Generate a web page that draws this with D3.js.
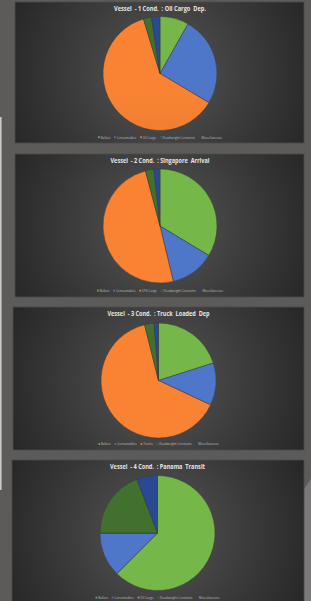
<!DOCTYPE html>
<html><head><meta charset="utf-8">
<script src="https://cdn.jsdelivr.net/npm/d3@7"></script>
<style>html,body{margin:0;padding:0;background:#5d5a5a;overflow:hidden}svg{display:block}</style>
</head><body>
<script>
const categories = ["Ballast","Consumables","Cargo","Deadweight Constants","Miscellaneous"];
const chartTitles = ["Vessel  - 1 Cond.  : Oil Cargo  Dep.","Vessel  - 2 Cond.  : Singapore  Arrival","Vessel  - 3 Cond.  : Truck  Loaded  Dep","Vessel  - 4 Cond.  : Panama  Transit"];
const cargoLabels = ["Oil Cargo","LPG Cargo","Trucks","Oil Cargo"];
const cond1 = [8.2, 25.4, 61.8, 2.3, 2.4];
const cond2 = [33.6, 12.6, 49.6, 2.4, 1.7];
const cond3 = [20.1, 11.9, 64.2, 2.7, 1.2];
const cond4 = [62.5, 12.5, 0, 19.2, 5.8];
const seriesValues = [cond1, cond2, cond3, cond4];
const colors = ["#6fae45","#4a70bf","#ec7c30","#3f6a2c","#27458a"];

// layout (pixels)
const W = 311, H = 601;
const panels = [
  {x:15, y:2,   w:289, h:141, cx:160,   cy:73.5, r:57,   ty:10.5,  ly:137.8, tw:92},
  {x:15, y:154, w:289, h:143, cx:160,   cy:226,  r:57,   ty:162.5, ly:291.2, tw:99},
  {x:13, y:307, w:291, h:143, cx:158.5, cy:380.5,r:57.5, ty:315.5, ly:444.6, tw:102},
  {x:12, y:460, w:292, h:150, cx:157.5, cy:533,  r:57.5, ty:468.5, ly:598.2, tw:95}
];

const svg = d3.select("body").append("svg").attr("width", W).attr("height", H);
const defs = svg.append("defs");

svg.append("rect").attr("width", W).attr("height", H).attr("fill", "#5d5a5a");
svg.append("rect").attr("x",0).attr("y",117).attr("width",1.6).attr("height",373).attr("fill","#c9c9c9");
svg.append("path").attr("d","M304,489 L311,479 L311,601 L304,601 Z").attr("fill","#7a7878");

const pie = d3.pie().sort(null).value(d => d);

panels.forEach((p, i) => {
  const gid = "bg" + i;
  const rg = defs.append("radialGradient").attr("id", gid)
    .attr("gradientUnits","userSpaceOnUse").attr("cx", p.cx).attr("cy", p.cy).attr("r", 165);
  rg.append("stop").attr("offset","0%").attr("stop-color","#575757");
  rg.append("stop").attr("offset","55%").attr("stop-color","#3b3b3b");
  rg.append("stop").attr("offset","100%").attr("stop-color","#262626");

  const g = svg.append("g");
  g.append("rect").attr("x", p.x).attr("y", p.y).attr("width", p.w).attr("height", p.h)
    .attr("fill", `url(#${gid})`).attr("stroke","#4d4b4b").attr("stroke-width",0.8);

  colors.forEach((c, k) => {
    const lg = defs.append("linearGradient").attr("id", `s${i}_${k}`)
      .attr("gradientUnits","userSpaceOnUse")
      .attr("x1", p.cx).attr("y1", p.cy - p.r).attr("x2", p.cx).attr("y2", p.cy + p.r);
    lg.append("stop").attr("offset","0%").attr("stop-color", d3.color(c).brighter(0.15));
    lg.append("stop").attr("offset","100%").attr("stop-color", d3.color(c).darker(0.12));
  });

  g.append("text").attr("x", p.cx).attr("y", p.ty).attr("text-anchor","middle")
    .attr("font-family","'Open Sans', sans-serif").attr("font-weight","bold").attr("font-size",6.2)
    .attr("fill","#e6e6e6").attr("textLength", p.tw).attr("lengthAdjust","spacingAndGlyphs")
    .attr("xml:space","preserve")
    .text(chartTitles[i]);

  const arc = d3.arc().innerRadius(0).outerRadius(p.r);
  g.append("g").attr("transform", `translate(${p.cx},${p.cy})`)
    .selectAll("path").data(pie(seriesValues[i])).join("path")
    .attr("d", arc)
    .attr("fill", (d, k) => `url(#s${i}_${k})`)
    .attr("stroke", "#3a3a3a").attr("stroke-width", 0.5);

  // legend
  const labels = categories.map((c, k) => k === 2 ? cargoLabels[i] : c);
  const fs = 3.1;
  const lgd = g.append("g").attr("font-family","'Open Sans', sans-serif").attr("font-size", fs).attr("fill","#bdbdbd");
  const items = lgd.selectAll("g").data(labels).join("g");
  items.append("rect").attr("width",1.8).attr("height",1.8).attr("y",-1.5).attr("fill",(d,k)=>colors[k]);
  const texts = items.append("text").attr("x",2.7).attr("y",0.8).text(d => d);
  const widths = [];
  texts.each(function(){ widths.push(this.getComputedTextLength()); });
  const gap = 3.8;
  const total = d3.sum(widths) + widths.length * 2.7 + gap * (widths.length - 1);
  let x = p.cx - total / 2;
  items.attr("transform", (d, k) => { const t = `translate(${x},${p.ly})`; x += widths[k] + 2.7 + gap; return t; });
});
</script>
</body></html>
